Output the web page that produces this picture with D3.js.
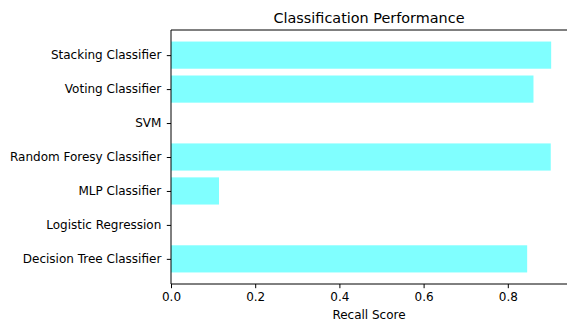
<!DOCTYPE html>
<html>
<head>
<meta charset="utf-8">
<script src="https://cdn.jsdelivr.net/npm/d3@7"></script>
<style>
  body { margin: 0; background: #fff; }
  text { font-family: "DejaVu Sans", sans-serif; fill: #000; }
</style>
</head>
<body>
<div id="chart"></div>
<script>
// bottom to top, as matplotlib barh draws them
var models = ["Decision Tree Classifier", "Logistic Regression", "MLP Classifier",
  "Random Foresy Classifier", "SVM", "Voting Classifier", "Stacking Classifier"];
var recall = [0.846, 0, 0.114, 0.902, 0, 0.861, 0.903];
var xTicks = [0, 0.2, 0.4, 0.6, 0.8];

const width = 567, height = 322;
const margin = { top: 30, bottom: 38, left: 171 };
const pxPerUnit = 421; // axis runs a bit past the right edge of the image

var svg = d3.select("#chart")
  .append("svg")
  .attr("width", width)
  .attr("height", height);

var xMax = d3.max(recall) * 1.05;
var x = d3.scaleLinear()
  .domain([0, xMax])
  .range([margin.left, margin.left + xMax * pxPerUnit]);

var n = models.length;
var pad = (n - 1 + 0.8) * 0.05;
var y = d3.scaleLinear()
  .domain([-0.4 - pad, n - 1 + 0.4 + pad])
  .range([height - margin.bottom, margin.top]);

var data = models.map((m, i) => ({ name: m, value: recall[i], i: i }));

svg.selectAll(".bar")
  .data(data)
  .enter().append("rect")
  .attr("class", "bar")
  .attr("x", x(0))
  .attr("y", d => y(d.i + 0.4))
  .attr("width", d => x(d.value) - x(0))
  .attr("height", d => y(d.i - 0.4) - y(d.i + 0.4))
  .attr("fill", "#80ffff");

// spines
var x0 = x(0), x1 = x(xMax), y0 = y.range()[0], y1 = y.range()[1];
svg.append("path")
  .attr("d", `M${x0},${y0}V${y1}H${x1}V${y0}Z`)
  .attr("fill", "none")
  .attr("stroke", "#000")
  .attr("stroke-width", 1);

// x axis
var xAxis = d3.axisBottom(x)
  .tickValues(xTicks)
  .tickFormat(d3.format(".1f"))
  .tickSize(4.2)
  .tickPadding(4);
var gx = svg.append("g")
  .attr("transform", `translate(0,${y0})`)
  .call(xAxis);
gx.select(".domain").remove();
gx.selectAll("text").style("font-size", "12px").style("font-family", "DejaVu Sans").attr("fill", "#000");
gx.selectAll("line").attr("stroke-width", 1);

// y axis
var yAxis = d3.axisLeft(y)
  .tickValues(d3.range(n))
  .tickFormat(i => models[i])
  .tickSize(4.2)
  .tickPadding(5.5);
var gy = svg.append("g")
  .attr("transform", `translate(${x0},0)`)
  .call(yAxis);
gy.select(".domain").remove();
gy.selectAll("text").style("font-size", "12px").style("font-family", "DejaVu Sans").attr("fill", "#000");
gy.selectAll("line").attr("stroke-width", 1);

// title
svg.append("text")
  .attr("x", 369)
  .attr("y", 23)
  .attr("text-anchor", "middle")
  .style("font-size", "14.4px")
  .text("Classification Performance");

// x label
svg.append("text")
  .attr("x", 369)
  .attr("y", 319)
  .attr("text-anchor", "middle")
  .style("font-size", "12px")
  .text("Recall Score");
</script>
</body>
</html>
